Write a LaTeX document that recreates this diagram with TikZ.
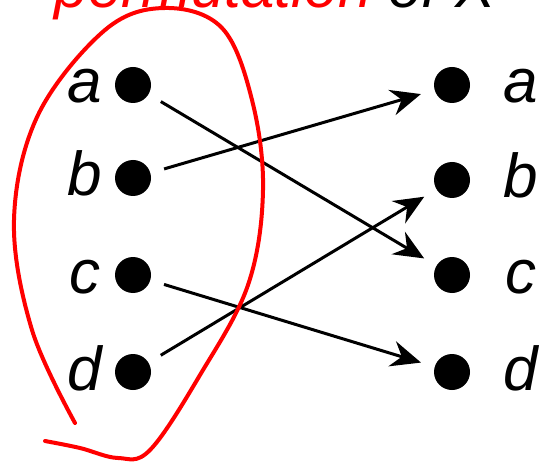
\documentclass[tikz,border=0pt]{standalone}
\usepackage{fontspec}
\setmainfont{Liberation Sans}
\usepackage{xcolor}
\definecolor{permred}{RGB}{255,0,0}
\usetikzlibrary{arrows.meta}

\tikzset{
  dot/.style={circle, fill=black, minimum size=18pt, inner sep=0pt},
  elem/.style={font=\fontsize{31}{35}\selectfont\itshape, anchor=base, inner sep=0pt},
  maparrow/.style={line width=1.5pt, -{Stealth[length=15pt,width=13pt,inset=5pt]}, shorten <=7pt, shorten >=7pt},
}

\begin{document}
\begin{tikzpicture}[x=0.5pt, y=-0.5pt]
  % Frame (title runs off the top edge)
  \useasboundingbox (0,0) rectangle (539,464);
  \clip (0,0) rectangle (539,464);

  % --- Title ---
  \node[elem, font=\fontsize{30}{34}\selectfont\itshape] (title) at (275,8) {\textcolor{permred}{permutation} of X};

  % --- Left column: domain ---
  \node[dot] (la) at (133,85) {};
  \node[dot] (lb) at (133,178) {};
  \node[dot] (lc) at (133,275) {};
  \node[dot] (ld) at (133,372) {};
  \node[elem] (lbla) at (85,103) {a};
  \node[elem] (lblb) at (85,196) {b};
  \node[elem] (lblc) at (85,293) {c};
  \node[elem] (lbld) at (85,390) {d};

  % --- Right column: codomain ---
  \node[dot] (ra) at (452,85) {};
  \node[dot] (rb) at (452,180) {};
  \node[dot] (rc) at (452,275) {};
  \node[dot] (rd) at (452,372) {};
  \node[elem] (rlbla) at (521,103) {a};
  \node[elem] (rlblb) at (521,198) {b};
  \node[elem] (rlblc) at (521,293) {c};
  \node[elem] (rlbld) at (521,390) {d};

  % Mapping arrows
  \draw[maparrow] (la) -- (rc);
  \draw[maparrow] (lb) -- (ra);
  \draw[maparrow] (lc) -- (rd);
  \draw[maparrow] (ld) -- (rb);

  % Hand-drawn red loop round X
  \draw[permred, line width=2pt, line cap=round] plot[smooth, tension=0.6] coordinates {
    (75,423) (32,330) (14,220) (38,115) (105,30) (165,8) (222,28) (252,100)
    (263,190) (248,285) (200,375) (150,450) (118,458) (80,448) (45,441)};
\end{tikzpicture}
\end{document}
